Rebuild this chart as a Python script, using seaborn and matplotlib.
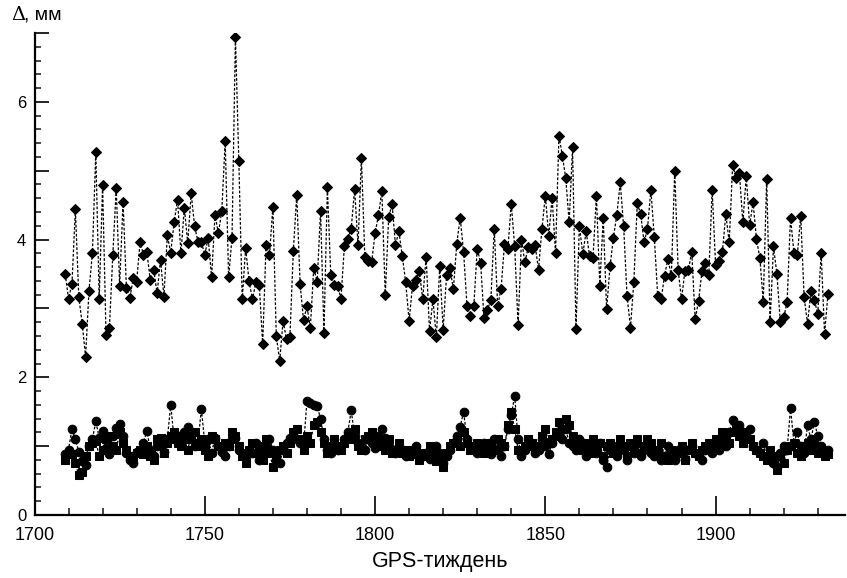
import numpy as np
import pandas as pd
import matplotlib
matplotlib.use("Agg")
import matplotlib.pyplot as plt
from matplotlib.ticker import MultipleLocator, FuncFormatter
import seaborn as sns

# GPS weeks
weeks = list(range(1709, 1934))

# Upper series (diamonds), mm
diamonds = [
    3.50, 3.14, 3.36, 4.44, 3.17, 2.78, 2.30, 3.26, 3.80, 5.27,
    3.14, 4.79, 2.62, 2.72, 3.78, 4.75, 3.33, 4.55, 3.29, 3.15,
    3.44, 3.39, 3.97, 3.78, 3.82, 3.41, 3.56, 3.22, 3.71, 3.17,
    4.06, 3.81, 4.25, 4.58, 3.80, 4.46, 3.95, 4.67, 4.20, 3.97,
    3.96, 3.78, 4.02, 3.45,
    4.36, 4.09, 4.42, 5.43, 3.45, 4.03, 6.94, 5.14, 3.13, 3.88,
    3.40, 3.13, 3.38, 3.34, 2.48, 3.92, 3.77, 4.48, 2.60, 2.24,
    2.82, 2.55, 2.59, 3.83, 4.65, 3.35, 2.83, 3.03, 2.72, 3.59,
    3.38, 4.42, 2.64, 4.76, 3.49, 3.34, 3.33, 3.14, 3.91, 4.01,
    4.16, 4.73, 3.92, 5.19,
    3.75, 3.69, 3.67, 4.09, 4.35, 4.71, 3.19, 4.33, 4.51, 3.92,
    4.12, 3.76, 3.38, 2.82, 3.33, 3.42, 3.54, 3.14, 3.75, 2.67,
    3.13, 2.58, 3.62, 2.69, 3.48, 3.58, 3.28, 3.94, 4.32, 3.82,
    3.04, 2.89, 3.03, 3.87, 3.66, 2.86, 2.98, 3.12, 4.16, 3.04,
    3.28, 3.93, 3.86, 4.52, 3.90, 2.76,
    4.00, 3.67, 3.89, 3.86, 3.92, 3.56, 4.15, 4.64, 4.05, 4.61,
    3.80, 5.51, 5.22, 4.89, 4.25, 5.34, 2.70, 4.20, 3.79, 4.12,
    3.76, 3.73, 4.64, 3.33, 4.31, 2.99, 3.61, 4.03, 4.36, 4.83,
    4.19, 3.18, 2.72, 3.39, 4.53, 4.37, 3.96, 4.16, 4.72, 4.04,
    3.18, 3.13, 3.47, 3.72, 3.47, 5.00,
    3.56, 3.13, 3.55, 3.56, 3.82, 2.84, 3.11, 3.54, 3.66, 3.49,
    4.72, 3.63, 3.69, 3.82, 4.37, 3.96, 5.08, 4.90, 4.96, 4.25,
    4.92, 4.21, 4.54, 4.01, 3.73, 3.10, 4.88, 2.81, 3.90, 3.50,
    2.81, 2.87, 3.09, 4.32, 3.81, 3.78, 4.34, 3.16, 2.78, 3.25,
    3.12, 2.92, 3.81, 2.63, 3.21,
]

# Lower series (circles), mm
circles = [
    0.88, 0.95, 1.25, 1.10, 0.92, 0.78, 0.72, 1.00, 1.10, 1.36,
    1.12, 1.22, 0.98, 0.88, 1.15, 1.26, 1.32, 1.15, 0.90, 0.80,
    0.75, 0.92, 0.95, 1.05, 1.22, 0.95, 0.85, 1.00, 1.05, 0.92,
    1.10, 1.60, 1.10, 1.15, 1.05, 1.20, 1.28, 1.10, 1.00, 1.05,
    1.54, 1.05, 1.10, 0.90, 1.12, 1.00, 0.92, 0.85, 1.00, 1.10,
    1.12, 0.95, 0.90, 0.85, 0.95, 0.90, 1.05, 0.80, 0.92, 1.00,
    1.10, 0.95, 0.80, 0.75, 0.95, 1.05, 1.12, 1.15, 1.10, 1.05,
    1.00, 1.65, 1.62, 1.60, 1.58, 1.40, 1.10, 0.95, 0.90, 1.00,
    0.95, 1.00, 1.10, 1.20, 1.52, 1.15, 1.05, 1.00, 0.95, 1.10,
    1.05, 0.98, 1.15, 1.25, 1.12, 1.00, 0.95, 0.90, 1.00, 0.92,
    0.85, 0.90, 0.95, 1.00, 0.88, 0.85, 0.90, 0.82, 0.95, 1.00,
    0.90, 0.75, 0.85, 0.95, 1.05, 1.15, 1.28, 1.50, 1.10, 1.00,
    0.95, 0.90, 1.00, 1.05, 0.92, 0.88, 1.10, 0.95, 0.85, 1.00,
    1.25, 1.45, 1.73, 1.10, 0.85, 0.95, 1.00, 1.05, 0.90, 0.95,
    1.10, 1.00, 0.88, 1.05, 1.15, 1.20, 1.10, 1.25, 1.05, 1.00,
    0.95, 1.10, 1.05, 0.85, 0.95, 1.00, 0.90, 1.05, 0.80, 0.70,
    0.95, 1.00, 0.85, 1.05, 0.95, 0.80, 1.00, 0.90, 1.05, 0.85,
    0.95, 1.00, 0.90, 0.85, 0.95, 0.80, 0.85, 1.00, 0.90, 0.80,
    0.95, 0.90, 0.82, 0.95, 1.00, 0.90, 0.85, 0.80, 0.95, 1.00,
    0.90, 1.05, 0.95, 1.10, 1.00, 1.20, 1.38, 1.25, 1.30, 1.20,
    1.10, 1.25, 1.00, 0.95, 0.90, 1.05, 0.85, 0.80, 0.75, 0.70,
    0.90, 1.00, 0.95, 1.55, 1.05, 1.20, 1.00, 0.90, 1.30, 1.10,
    1.35, 1.15, 1.00, 0.90, 0.95,
]

# Lower series (squares), mm
squares = [
    0.80, 0.90, 0.88, 0.75, 0.58, 0.62, 0.85, 1.00, 1.05, 1.08,
    0.85, 0.95, 1.10, 1.15, 1.00, 0.95, 1.20, 1.05, 0.95, 0.85,
    0.82, 0.90, 0.95, 0.88, 1.00, 0.85, 0.80, 1.10, 1.12, 0.90,
    1.05, 1.15, 1.20, 1.05, 1.00, 1.10, 0.95, 1.15, 1.20, 1.00,
    1.10, 0.95, 0.85, 1.15, 1.10, 1.00, 0.95, 1.05, 1.00, 1.20,
    1.15, 1.00, 0.85, 0.75, 0.95, 1.05, 0.90, 1.00, 0.80, 1.10,
    0.90, 0.70, 0.85, 0.95, 1.00, 0.90, 1.05, 1.20, 1.25, 1.10,
    0.95, 1.15, 1.05, 1.30, 1.35, 1.20, 1.05, 0.90, 1.00, 1.10,
    1.00, 0.95, 1.05, 1.15, 1.10, 1.25, 1.00, 0.95, 1.10, 1.15,
    1.20, 1.10, 1.00, 1.05, 0.95, 1.10, 0.90, 0.95, 1.05, 0.90,
    0.95, 0.85, 0.88, 0.95, 0.80, 0.90, 0.85, 1.00, 0.92, 0.78,
    0.85, 0.70, 0.90, 1.00, 1.05, 1.10, 1.00, 1.20, 1.05, 0.95,
    1.00, 1.05, 0.95, 0.90, 1.05, 1.00, 0.95, 1.10, 1.05, 1.00,
    1.30, 1.50, 1.25, 0.95, 0.90, 1.00, 1.10, 1.05, 0.95, 1.00,
    1.15, 1.25, 1.05, 1.10, 1.20, 1.35, 1.25, 1.40, 1.30, 1.15,
    1.10, 1.00, 0.95, 1.05, 0.90, 1.10, 0.95, 1.05, 0.85, 1.00,
    1.05, 0.90, 0.95, 1.10, 1.00, 0.85, 1.05, 0.95, 1.10, 0.90,
    1.00, 1.10, 1.05, 0.95, 0.90, 1.05, 0.85, 0.80, 0.95, 0.85,
    0.90, 1.00, 0.80, 0.95, 1.05, 0.90, 0.85, 0.95, 1.00, 1.05,
    0.95, 1.10, 1.05, 1.20, 1.15, 1.05, 1.20, 1.30, 1.15, 1.05,
    1.20, 1.10, 1.00, 0.95, 0.90, 0.85, 0.80, 0.95, 0.85, 0.65,
    0.85, 0.75, 0.95, 1.00, 1.05, 0.90, 0.85, 1.00, 1.05, 0.95,
    1.05, 0.90, 0.95, 0.85, 0.88,
]

x_label = "GPS-тиждень"
y_label_sym = "Δ"
y_label_unit = ", мм"

sns.set_theme(style="white")
plt.rcParams["font.family"] = ["Liberation Sans", "DejaVu Sans"]

fig = plt.figure(figsize=(8.47, 5.78), dpi=100)
ax = fig.add_axes([34.5 / 847, 1 - 515 / 578, (845 - 34.5) / 847, (515 - 33) / 578])

line_kw = dict(color="black", linewidth=0.9, linestyle=(0, (2.2, 1.4)),
               markeredgecolor="black", markerfacecolor="black")

df_c = pd.DataFrame({"week": weeks, "val": circles})
df_s = pd.DataFrame({"week": weeks, "val": squares})
df_d = pd.DataFrame({"week": weeks, "val": diamonds})

sns.lineplot(data=df_c, x="week", y="val", ax=ax, marker="o", markersize=6.2, **line_kw)
sns.lineplot(data=df_s, x="week", y="val", ax=ax, marker="s", markersize=5.8, **line_kw)
sns.lineplot(data=df_d, x="week", y="val", ax=ax, marker="D", markersize=5.0, **line_kw)

ax.set_xlim(1700, 1938)
ax.set_ylim(0, 7)

for side in ["top", "right"]:
    ax.spines[side].set_visible(False)
for side in ["left", "bottom"]:
    ax.spines[side].set_color("black")
    ax.spines[side].set_linewidth(1.6)

ax.xaxis.set_major_locator(MultipleLocator(50))
ax.xaxis.set_minor_locator(MultipleLocator(10))
ax.yaxis.set_major_locator(MultipleLocator(1))
ax.yaxis.set_minor_locator(MultipleLocator(0.2))
ax.yaxis.set_major_formatter(FuncFormatter(lambda v, p: f"{int(round(v))}" if int(round(v)) % 2 == 0 else ""))

ax.tick_params(axis="x", which="major", direction="in", length=13.5, width=1.2, pad=9,
               labelsize=13, colors="black", bottom=True)
ax.tick_params(axis="x", which="minor", direction="in", length=5.3, width=1.2, bottom=True)
ax.tick_params(axis="y", which="major", direction="in", length=10, width=1.2, pad=6,
               labelsize=12, colors="black", left=True)
ax.tick_params(axis="y", which="minor", direction="in", length=4, width=1.2, left=True)

ax.set_xlabel(x_label, fontsize=15.5, color="black", labelpad=5)
ax.set_ylabel("")
t1 = fig.text(11 / 847, 1 - 15 / 578, y_label_sym, fontsize=14, color="black",
              va="center", ha="left", family=["DejaVu Serif"])
fig.text(24 / 847, 1 - 15 / 578, y_label_unit, fontsize=14, color="black",
         va="center", ha="left")

ax.grid(False)
fig.savefig("out.png", dpi=100)
